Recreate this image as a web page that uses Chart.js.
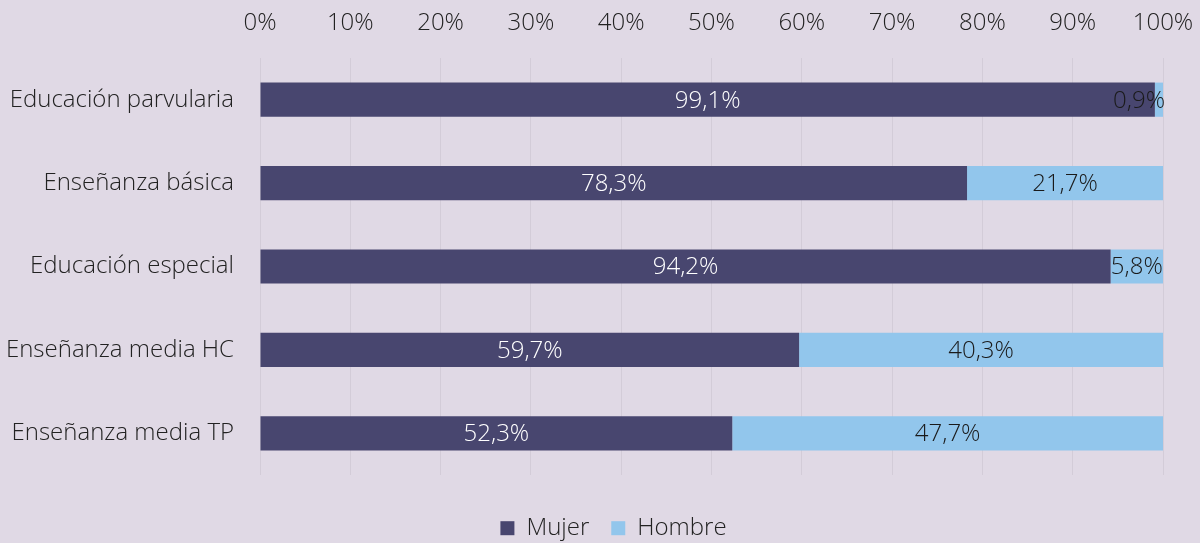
<!DOCTYPE html>
<html>
<head>
<meta charset="utf-8">
<script src="https://cdn.jsdelivr.net/npm/chart.js@4/dist/chart.umd.min.js"></script>
<style>
  html, body { margin: 0; padding: 0; background: #E0D9E5; }
  #wrap { width: 1200px; height: 543px; }
</style>
</head>
<body>
<div id="wrap"><canvas id="chart"></canvas></div>
<script>
const categories = ['Educación parvularia', 'Enseñanza básica', 'Educación especial', 'Enseñanza media HC', 'Enseñanza media TP'];
const mujer = [99.1, 78.3, 94.2, 59.7, 52.3];
const hombre = [0.9, 21.7, 5.8, 40.3, 47.7];
const tickValues = [0, 10, 20, 30, 40, 50, 60, 70, 80, 90, 100];

const FONT = '"Open Sans", Lato, sans-serif';
const SIZE = 24;

// draws the percentage inside each segment, kept inside the plot area
const segmentLabels = {
  id: 'segmentLabels',
  afterDatasetsDraw(chart) {
    const ctx = chart.ctx;
    const area = chart.chartArea;
    ctx.save();
    ctx.font = '300 ' + SIZE + 'px ' + FONT;
    ctx.textBaseline = 'middle';
    ctx.textAlign = 'center';
    chart.data.datasets.forEach((ds, i) => {
      const meta = chart.getDatasetMeta(i);
      meta.data.forEach((bar, j) => {
        const text = ds.data[j].toFixed(1).replace('.', ',') + '%';
        const w = ctx.measureText(text).width;
        let cx = (bar.x + bar.base) / 2;
        if (cx + w / 2 > area.right + 2) cx = area.right + 2 - w / 2;
        ctx.fillStyle = ds.labelColor;
        ctx.fillText(text, cx, bar.y + 1);
      });
    });
    ctx.restore();
  }
};

// fixes the legend block height so the plot ends where the original does,
// and nudges the legend to sit where it is in the original
const legendPlace = {
  id: 'legendPlace',
  beforeInit(chart) {
    const fit = chart.legend.fit;
    chart.legend.fit = function () {
      fit.call(this);
      this.height = 68;
    };
  },
  afterLayout(chart) {
    chart.legend.left += 32;
    chart.legend.right += 32;
  }
};

new Chart(document.getElementById('chart'), {
  type: 'bar',
  data: {
    labels: categories,
    datasets: [
      { label: 'Mujer', data: mujer, backgroundColor: '#48466F', labelColor: '#FFFFFF' },
      { label: 'Hombre', data: hombre, backgroundColor: '#92C6EC', labelColor: '#1A1A1A' }
    ]
  },
  options: {
    indexAxis: 'y',
    responsive: true,
    maintainAspectRatio: false,
    animation: false,
    categoryPercentage: 1,
    barPercentage: 0.41,
    layout: { padding: { top: 0, right: 37, bottom: 0, left: 0 } },
    scales: {
      x: {
        stacked: true,
        position: 'top',
        min: 0,
        max: 100,
        afterBuildTicks(scale) {
          scale.ticks = tickValues.map(v => ({ value: v }));
        },
        afterFit(scale) {
          scale.height = 58;
          scale.paddingLeft = 0;
          scale.paddingRight = 0;
        },
        grid: { color: '#D3CCD8', lineWidth: 1, drawTicks: false },
        border: { display: false },
        ticks: {
          padding: 20,
          color: '#222222',
          font: { family: FONT, size: SIZE, weight: 300 },
          callback: v => v + '%'
        }
      },
      y: {
        stacked: true,
        afterFit(scale) { scale.width = 260; },
        grid: { display: false, drawTicks: false },
        border: { display: false },
        ticks: {
          padding: 26,
          color: '#222222',
          font: { family: FONT, size: SIZE, weight: 300 }
        }
      }
    },
    plugins: {
      legend: {
        position: 'bottom',
        title: { display: true, text: ' ', font: { size: 1 }, padding: { top: 18, bottom: 0 } },
        labels: {
          color: '#222222',
          font: { family: FONT, size: SIZE, weight: 300 },
          boxWidth: 14,
          boxHeight: 14,
          padding: 22
        }
      },
      tooltip: { enabled: false }
    }
  },
  plugins: [segmentLabels, legendPlace]
});
</script>
</body>
</html>
